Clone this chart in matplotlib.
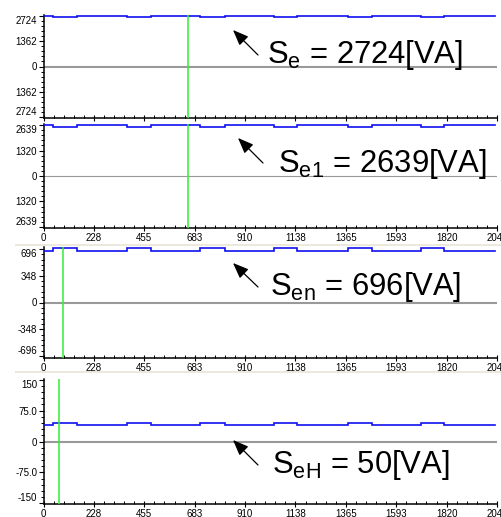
import numpy as np
import matplotlib
matplotlib.use('Agg')
import matplotlib.pyplot as plt
from matplotlib.ticker import FixedLocator, AutoMinorLocator
from matplotlib.patches import FancyArrowPatch, Rectangle

plt.rcParams['font.family'] = ['Liberation Sans', 'DejaVu Sans']
plt.rcParams['mathtext.fontset'] = 'custom'
plt.rcParams['mathtext.rm'] = 'Liberation Sans'
plt.rcParams['mathtext.it'] = 'Liberation Sans'

# --- record: sample axis ---------------------------------------------------
n_last = 2047
x_tick_labels = ['0', '228', '455', '683', '910', '1138', '1365', '1593', '1820', '2047']
hump_start = [45, 377, 705, 1042, 1374, 1702]
hump_end = [153, 485, 817, 1145, 1482, 1810]
record_end = 2040

# --- channels (top to bottom) ---------------------------------------------
full_scale = [2724, 2639, 696, 150]
base_level = [2724, 2639, 670, 40]
hump_level = [2680, 2560, 712, 44]
cursor_pos = [650, 650, 89, 71]
ytick_labels = [
    ['2724', '1362', '0', '1362', '2724'],
    ['2639', '1320', '0', '1320', '2639'],
    ['696', '348', '0', '-348', '-696'],
    ['150', '75.0', '0', '-75.0', '-150'],
]
captions = [
    r'$\mathregular{S_{e}}$ = 2724[VA]',
    r'$\mathregular{S_{e1}}$ = 2639[VA]',
    r'$\mathregular{S_{en}}$ = 696[VA]',
    r'$\mathregular{S_{eH}}$ = 50[VA]',
]
ylim_factor = [1.02, 1.02, 1.035, 1.01]
zero_lw = [1.5, 0.8, 1.5, 1.5]
show_xlabels = [False, True, True, True]

# layout in pixels of a 501 x 517 canvas
W, H = 501, 517
panel_px = [(15, 118), (124, 228), (247, 358), (379, 504)]
left_px, right_px = 43.5, 497
caption_px = [(267, 63), (278, 172), (270, 295), (272, 473)]
arrow_px = [((258, 55), (233, 30)), ((263, 163), (238, 138)),
            ((258, 287), (233, 263)), ((258, 465), (233, 440))]

fig = plt.figure(figsize=(W / 100, H / 100), dpi=100)
fig.patch.set_facecolor('white')

# thin separators between the captured scope panes
for ysep in (244, 371):
    fig.add_artist(Rectangle((15 / W, 1 - (ysep + 2) / H), 1, 2 / H,
                             transform=fig.transFigure, color='#ece8dc', lw=0))

x_ticks = np.arange(len(x_tick_labels)) * n_last / (len(x_tick_labels) - 1)

for i in range(4):
    top, bot = panel_px[i]
    ax = fig.add_axes([left_px / W, 1 - bot / H, (right_px - left_px) / W, (bot - top) / H])
    fs = full_scale[i]

    # step trace
    xs, ys = [0], [base_level[i]]
    for s, e in zip(hump_start, hump_end):
        xs += [s, s, e, e]
        ys += [base_level[i], hump_level[i], hump_level[i], base_level[i]]
    xs.append(record_end)
    ys.append(base_level[i])

    ax.axhline(0, color='#999999', lw=zero_lw[i], zorder=1)
    ax.plot(xs, ys, color='#1010f0', lw=1.2, zorder=3, solid_joinstyle='miter')
    ax.axvline(cursor_pos[i], color='#33ee33', lw=1.1, zorder=4)

    ax.set_xlim(0, n_last)
    ax.set_ylim(-fs * ylim_factor[i], fs * ylim_factor[i])

    for side in ('top', 'right'):
        ax.spines[side].set_visible(False)
    for side in ('left', 'bottom'):
        ax.spines[side].set_linewidth(1.1)

    ax.yaxis.set_major_locator(FixedLocator([fs, fs / 2, 0, -fs / 2, -fs]))
    ax.set_yticklabels(ytick_labels[i])
    ax.yaxis.set_minor_locator(AutoMinorLocator(5))
    labels = ax.get_yticklabels()
    labels[0].set_va('top')
    labels[-1].set_va('bottom')

    ax.xaxis.set_major_locator(FixedLocator(x_ticks))
    ax.xaxis.set_minor_locator(AutoMinorLocator(5))
    if show_xlabels[i]:
        ax.set_xticklabels(x_tick_labels)
    else:
        ax.set_xticklabels([])

    ax.tick_params(axis='y', which='major', direction='out', length=3.5, width=0.8,
                   labelsize=7, pad=1)
    ax.tick_params(axis='y', which='minor', direction='out', length=2, width=0.7)
    ax.tick_params(axis='x', which='major', direction='inout', length=5, width=0.8,
                   labelsize=7, pad=1)
    ax.tick_params(axis='x', which='minor', direction='in', length=2.5, width=0.7)

    # caption and pointer
    cx, cy = caption_px[i]
    fig.text(cx / W, 1 - cy / H, captions[i], fontsize=22.3, va='baseline', ha='left',
             color='black')
    (tx, ty), (hx, hy) = arrow_px[i]
    fig.add_artist(FancyArrowPatch((tx / W, 1 - ty / H), (hx / W, 1 - hy / H),
                                   transform=fig.transFigure,
                                   arrowstyle='-|>,head_length=0.95,head_width=0.38',
                                   mutation_scale=10, color='black', lw=0.9,
                                   shrinkA=0, shrinkB=0))

fig.savefig('out.png', dpi=100)
